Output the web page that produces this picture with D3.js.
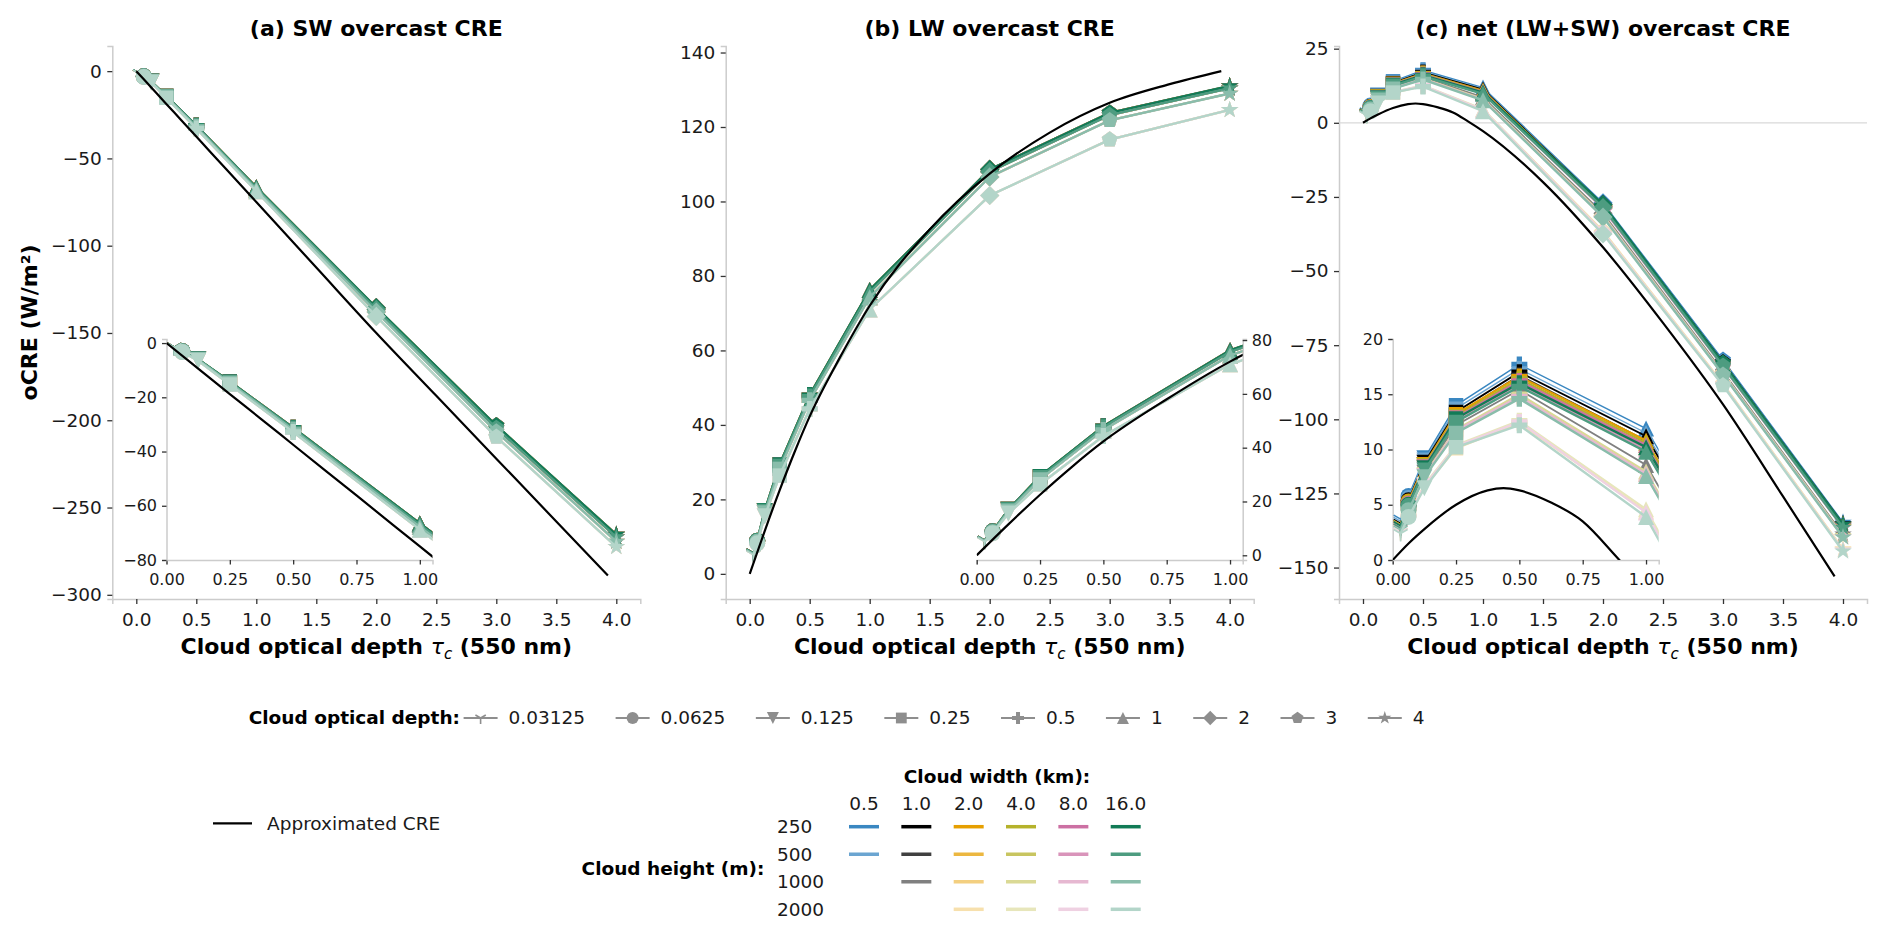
<!DOCTYPE html>
<html>
<head>
<meta charset="utf-8">
<script src="https://cdn.jsdelivr.net/npm/d3@7"></script>
<style>
  body { margin: 0; background: #fff; }
  svg text { font-family: "DejaVu Sans", sans-serif; }
</style>
</head>
<body>
<svg id="chart" width="1892" height="935"></svg>
<script>
// ---- data ----
var taus = [0.03125, 0.0625, 0.125, 0.25, 0.5, 1, 2, 3, 4];
var tauLabels = ["0.03125", "0.0625", "0.125", "0.25", "0.5", "1", "2", "3", "4"];
var widthLabels = ["0.5", "1.0", "2.0", "4.0", "8.0", "16.0"];
var heightLabels = ["250", "500", "1000", "2000"];
// which heights exist for each width (index into heightLabels)
var widthHeights = [[0, 1], [0, 1, 2], [0, 1, 2, 3], [0, 1, 2, 3], [0, 1, 2, 3], [0, 1, 2, 3]];

// SW overcast CRE, by cloud height (widths overlap)
var swH250  = [-1.5, -3.0, -6.0, -14.2, -31.2, -66.5, -135.5, -203.0, -265.5];
var swH500  = [-1.5, -3.0, -6.1, -14.4, -31.5, -67.0, -136.5, -204.5, -267.0];
var swH1000 = [-1.6, -3.1, -6.2, -14.7, -32.0, -67.8, -138.0, -206.5, -269.5];
var swH2000 = [-1.7, -3.3, -6.5, -15.3, -32.8, -68.8, -140.5, -209.5, -272.5];

// LW overcast CRE, by cloud height
var lwH250  = [5.6, 8.9, 16.9, 29.4, 48.0, 76.2, 108.6, 123.8, 131.0];
var lwH500  = [5.5, 8.8, 16.7, 29.0, 47.6, 75.6, 108.0, 123.2, 130.4];
var lwH1000 = [5.4, 8.6, 16.3, 28.2, 46.6, 74.3, 106.6, 121.8, 129.0];
var lwH2000 = [5.1, 8.2, 15.5, 26.4, 44.3, 71.0, 101.6, 116.6, 124.6];

// net overcast CRE, by cloud width (rows = available heights)
var netW05 = [
  [3.7, 5.8, 9.2, 14.0, 17.7, 11.9, -27.0, -80.0, -134.8],
  [3.5, 5.6, 9.0, 13.7, 17.3, 11.5, -27.4, -80.6, -135.4]
];
var netW10 = [
  [3.3, 5.4, 8.8, 13.4, 17.0, 11.2, -27.6, -80.8, -135.3],
  [3.2, 5.2, 8.6, 13.1, 16.7, 10.8, -28.2, -81.5, -136.0],
  [2.9, 4.7, 7.9, 12.2, 15.4, 8.6, -30.5, -84.0, -138.8]
];
var netW20 = [
  [3.2, 5.3, 8.6, 13.2, 16.6, 10.8, -28.0, -81.2, -135.6],
  [3.1, 5.1, 8.4, 12.9, 16.3, 10.4, -28.6, -81.9, -136.3],
  [2.8, 4.6, 7.6, 11.6, 14.8, 7.8, -31.5, -84.8, -139.6],
  [2.5, 4.0, 6.6, 10.1, 12.4, 4.4, -36.5, -88.0, -143.8]
];
var netW40 = [
  [3.2, 5.2, 8.5, 13.0, 16.4, 10.6, -28.1, -81.3, -135.7],
  [3.0, 5.0, 8.3, 12.8, 16.1, 10.2, -28.8, -82.1, -136.5],
  [2.8, 4.6, 7.7, 11.8, 15.0, 8.0, -31.2, -84.5, -139.3],
  [2.5, 4.1, 6.8, 10.4, 12.6, 4.6, -36.8, -88.2, -144.0]
];
var netW80 = [
  [3.1, 5.1, 8.4, 12.9, 16.2, 10.4, -28.2, -81.3, -135.8],
  [3.0, 5.0, 8.2, 12.6, 15.9, 10.0, -29.0, -82.3, -136.7],
  [2.8, 4.6, 7.6, 11.7, 14.8, 7.8, -31.5, -84.8, -139.6],
  [2.5, 4.0, 6.7, 10.3, 12.5, 4.3, -37.0, -88.4, -144.2]
];
var netW160 = [
  [3.1, 5.0, 8.3, 12.8, 16.0, 10.2, -27.6, -81.0, -135.5],
  [2.9, 4.9, 8.1, 12.5, 15.7, 9.8, -28.6, -82.0, -136.5],
  [2.7, 4.5, 7.5, 11.5, 14.6, 7.6, -31.8, -85.0, -139.8],
  [2.4, 3.9, 6.5, 10.2, 12.2, 3.9, -37.5, -88.6, -144.5]
];

// approximated CRE curves
var approxTau = [0, 0.125, 0.25, 0.375, 0.5, 0.75, 1, 1.5, 2, 2.5, 3, 3.5, 3.93];
var swApprox  = [0, -9.4, -18.8, -28.1, -37.5, -56.2, -75, -112.5, -150, -186, -222, -258, -289];
var lwApprox  = [0, 11.5, 22.5, 32.8, 42.3, 58.0, 72.0, 92.5, 107.5, 118.5, 126.5, 131.5, 135.0];
var netApproxTau = [0, 0.0625, 0.125, 0.25, 0.375, 0.4375, 0.5, 0.625, 0.75, 0.875, 1, 1.5, 2, 2.5, 3, 3.5, 3.93];
var netApprox    = [0, 1.5, 2.8, 5.0, 6.3, 6.5, 6.3, 5.2, 3.5, 0.5, -2.8, -20, -42, -67.5, -95, -126, -153];

// tick labels
var xTicks = [0, 0.5, 1, 1.5, 2, 2.5, 3, 3.5, 4];
var insetXTicks = [0, 0.25, 0.5, 0.75, 1];
var swTicks = [0, -50, -100, -150, -200, -250, -300];
var lwTicks = [0, 20, 40, 60, 80, 100, 120, 140];
var netTicks = [25, 0, -25, -50, -75, -100, -125, -150];
var swInsetTicks = [0, -20, -40, -60, -80];
var lwInsetTicks = [0, 20, 40, 60, 80];
var netInsetTicks = [0, 5, 10, 15, 20];

var swByHeight = [swH250, swH500, swH1000, swH2000];
var lwByHeight = [lwH250, lwH500, lwH1000, lwH2000];
var netByWidth = [netW05, netW10, netW20, netW40, netW80, netW160];

// ---- styles ----
var widthColors = ["#3a87c1", "#000000", "#e69f00", "#b5b22b", "#cc70a3", "#127b56"];
var heightTint = [0, 0.25, 0.5, 0.68];
var widthLine = [1.4, 1.8, 2.2, 2.2, 2.2, 2.4];
var spineColor = "#cccccc", tickColor = "#333", textColor = "#1a1a1a";
var TOP = 46, BOTTOM = 599, IN_TOP = 339, IN_BOTTOM = 560, IN_W = 266;
var MS = 16;

function tint(c, f) { return d3.interpolateRgb(c, "#ffffff")(f); }

var series = [];
widthLabels.forEach(function(w, wi) {
  widthHeights[wi].forEach(function(hi, k) {
    series.push({wi: wi, hi: hi, row: k, color: tint(widthColors[wi], heightTint[hi]), lw: widthLine[wi]});
  });
});

function markerD(k, s) {
  var r = s / 2, i, pts = [];
  switch (k) {
    case 0: return "M0,0L0," + r + "M0,0L" + (0.866 * r) + "," + (-0.5 * r) + "M0,0L" + (-0.866 * r) + "," + (-0.5 * r);
    case 1: return d3.symbol(d3.symbolCircle, Math.PI * r * r)();
    case 2: return "M0," + r + "L" + (-r) + "," + (-r) + "L" + r + "," + (-r) + "Z";
    case 3: var q = r * 0.9; return "M" + (-q) + "," + (-q) + "H" + q + "V" + q + "H" + (-q) + "Z";
    case 4:
      var a = s / 6, b = s / 2;
      return "M" + (-a) + "," + (-b) + "H" + a + "V" + (-a) + "H" + b + "V" + a + "H" + a + "V" + b +
             "H" + (-a) + "V" + a + "H" + (-b) + "V" + (-a) + "H" + (-a) + "Z";
    case 5: return "M0," + (-r) + "L" + (-r) + "," + r + "L" + r + "," + r + "Z";
    case 6: var dd = r * 1.2; return "M0," + (-dd) + "L" + dd + ",0L0," + dd + "L" + (-dd) + ",0Z";
    case 7:
      for (i = 0; i < 5; i++) { var an = -Math.PI / 2 + i * 2 * Math.PI / 5; pts.push([r * 1.05 * Math.cos(an), r * 1.05 * Math.sin(an)]); }
      return "M" + pts.map(function(p) { return p.join(","); }).join("L") + "Z";
    default:
      for (i = 0; i < 10; i++) {
        var ang = -Math.PI / 2 + i * Math.PI / 5, rr = (i % 2 ? 0.382 : 1) * r * 1.15;
        pts.push([rr * Math.cos(ang), rr * Math.sin(ang)]);
      }
      return "M" + pts.map(function(p) { return p.join(","); }).join("L") + "Z";
  }
}

function styleAxis(g, size) {
  g.attr("font-family", "DejaVu Sans, sans-serif").attr("font-size", size);
  g.select(".domain").attr("stroke", spineColor).attr("stroke-width", 1.5);
  g.selectAll(".tick line").attr("stroke", tickColor).attr("stroke-width", 1.3);
  g.selectAll(".tick text").attr("fill", textColor);
}

var panels = [
  {title: "(a) SW overcast CRE", left: 112.3, right: 640.3, ylim: [-302.4, 14.4], yticks: swTicks,
   inLeft: 166.5, inYlim: [-80, 1.5], inYticks: swInsetTicks, inSide: "left",
   get: function(wi, hi, row) { return swByHeight[hi]; }, approxX: approxTau, approx: swApprox},
  {title: "(b) LW overcast CRE", left: 725.7, right: 1253.7, ylim: [-6.75, 141.75], yticks: lwTicks,
   inLeft: 976.7, inYlim: [-1.75, 80.4], inYticks: lwInsetTicks, inSide: "right",
   get: function(wi, hi, row) { return lwByHeight[hi]; }, approxX: approxTau, approx: lwApprox},
  {title: "(c) net (LW+SW) overcast CRE", left: 1339, right: 1867, ylim: [-160.6, 25.9], yticks: netTicks,
   inLeft: 1392.7, inYlim: [0, 20], inYticks: netInsetTicks, inSide: "left", zero: true,
   get: function(wi, hi, row) { return netByWidth[wi][row]; }, approxX: netApproxTau, approx: netApprox}
];

var svg = d3.select("#chart");
var defs = svg.append("defs");

function drawData(g, x, y, p, clipId) {
  var line = d3.line().x(function(d) { return x(d[0]); }).y(function(d) { return y(d[1]); });
  var smooth = d3.line().curve(d3.curveMonotoneX).x(function(d) { return x(d[0]); }).y(function(d) { return y(d[1]); });
  var body = g.append("g").attr("clip-path", "url(#" + clipId + ")");
  if (p.zero && clipId.indexOf("main") === 0) {
    body.append("line").attr("x1", x.range()[0]).attr("x2", x.range()[1])
      .attr("y1", y(0)).attr("y2", y(0)).attr("stroke", "#d9d9d9").attr("stroke-width", 1.2);
  }
  series.forEach(function(s) {
    var vals = p.get(s.wi, s.hi, s.row);
    var pts = taus.map(function(t, i) { return [t, vals[i]]; });
    body.append("path").datum(pts).attr("d", line)
      .attr("fill", "none").attr("stroke", s.color).attr("stroke-width", s.lw);
    body.selectAll(null).data(pts).enter().append("path")
      .attr("transform", function(d) { return "translate(" + x(d[0]) + "," + y(d[1]) + ")"; })
      .attr("d", function(d, i) { return markerD(i, MS); })
      .attr("fill", function(d, i) { return i === 0 ? "none" : s.color; })
      .attr("stroke", function(d, i) { return i === 0 ? s.color : "none"; })
      .attr("stroke-width", 1.6);
  });
  var ap = p.approxX.map(function(t, i) { return [t, p.approx[i]]; });
  body.append("path").datum(ap).attr("d", smooth)
    .attr("fill", "none").attr("stroke", "#000").attr("stroke-width", 2.2);
}

panels.forEach(function(p, pi) {
  var g = svg.append("g");
  var x = d3.scaleLinear().domain([-0.2, 4.2]).range([p.left, p.right]);
  var y = d3.scaleLinear().domain(p.ylim).range([BOTTOM, TOP]);

  defs.append("clipPath").attr("id", "main" + pi).append("rect")
    .attr("x", p.left).attr("y", TOP).attr("width", p.right - p.left).attr("height", BOTTOM - TOP);

  var gx = g.append("g").attr("transform", "translate(0," + BOTTOM + ")")
    .call(d3.axisBottom(x).tickValues(xTicks).tickFormat(d3.format(".1f")).tickSizeOuter(0).tickSize(5).tickPadding(9));
  styleAxis(gx, 18.5);
  var gy = g.append("g").attr("transform", "translate(" + p.left + ",0)")
    .call(d3.axisLeft(y).tickValues(p.yticks).tickFormat(d3.format("d")).tickSizeOuter(0).tickSize(5).tickPadding(5.5));
  styleAxis(gy, 18.5);

  drawData(g, x, y, p, "main" + pi);

  // inset
  var ix = d3.scaleLinear().domain([0, 1.05]).range([p.inLeft, p.inLeft + IN_W]);
  var iy = d3.scaleLinear().domain(p.inYlim).range([IN_BOTTOM, IN_TOP]);
  defs.append("clipPath").attr("id", "inset" + pi).append("rect")
    .attr("x", p.inLeft).attr("y", IN_TOP).attr("width", IN_W).attr("height", IN_BOTTOM - IN_TOP);
  var gix = g.append("g").attr("transform", "translate(0," + IN_BOTTOM + ")")
    .call(d3.axisBottom(ix).tickValues(insetXTicks).tickFormat(d3.format(".2f")).tickSizeOuter(0).tickSize(4.5).tickPadding(9));
  styleAxis(gix, 16);
  var giy;
  if (p.inSide === "left") {
    giy = g.append("g").attr("transform", "translate(" + p.inLeft + ",0)")
      .call(d3.axisLeft(iy).tickValues(p.inYticks).tickFormat(d3.format("d")).tickSizeOuter(0).tickSize(4.5).tickPadding(5));
  } else {
    giy = g.append("g").attr("transform", "translate(" + (p.inLeft + IN_W) + ",0)")
      .call(d3.axisRight(iy).tickValues(p.inYticks).tickFormat(d3.format("d")).tickSizeOuter(0).tickSize(4.5).tickPadding(4.5));
  }
  styleAxis(giy, 16);
  drawData(g, ix, iy, p, "inset" + pi);

  // title and x label
  var cx = (p.left + p.right) / 2;
  g.append("text").attr("x", cx).attr("y", 36).attr("text-anchor", "middle")
    .attr("font-size", 22).attr("font-weight", "bold").attr("fill", "#000").text(p.title);
  var xl = g.append("text").attr("x", cx).attr("y", 654).attr("text-anchor", "middle")
    .attr("font-size", 22).attr("font-weight", "bold").attr("fill", "#000");
  xl.append("tspan").text("Cloud optical depth ");
  xl.append("tspan").attr("font-style", "italic").attr("font-weight", "normal").text("τ");
  xl.append("tspan").attr("font-style", "italic").attr("font-weight", "normal").attr("font-size", 15).attr("dy", 5).text("c");
  xl.append("tspan").attr("dy", -5).text(" (550 nm)");
});

svg.append("text").attr("transform", "translate(37,322.5) rotate(-90)").attr("text-anchor", "middle")
  .attr("font-size", 22).attr("font-weight", "bold").attr("fill", "#000").text("oCRE (W/m²)");

// ---- legends ----
var LF = 18.5, legGray = "#8e8e8e";
var leg1 = svg.append("g");
leg1.append("text").attr("x", 460).attr("y", 718).attr("dy", "0.35em").attr("text-anchor", "end")
  .attr("font-size", LF).attr("font-weight", "bold").attr("fill", "#000").text("Cloud optical depth:");
var lx = 480.6;
tauLabels.forEach(function(lab, i) {
  var e = leg1.append("g").attr("transform", "translate(" + lx + ",718)");
  e.append("line").attr("x1", -17).attr("x2", 17).attr("stroke", legGray).attr("stroke-width", 2.2);
  e.append("path").attr("d", markerD(i, 12))
    .attr("fill", i === 0 ? "none" : legGray).attr("stroke", i === 0 ? legGray : "none").attr("stroke-width", 1.6);
  var t = e.append("text").attr("x", 28).attr("dy", "0.35em").attr("font-size", LF).attr("fill", textColor).text(lab);
  lx += 75.5 + t.node().getComputedTextLength();
});

var leg2 = svg.append("g");
leg2.append("line").attr("x1", 213).attr("x2", 252).attr("y1", 823.3).attr("y2", 823.3)
  .attr("stroke", "#000").attr("stroke-width", 2.2);
leg2.append("text").attr("x", 267).attr("y", 823.3).attr("dy", "0.35em").attr("font-size", LF)
  .attr("fill", textColor).text("Approximated CRE");

leg2.append("text").attr("x", 997).attr("y", 776.7).attr("dy", "0.35em").attr("text-anchor", "middle")
  .attr("font-size", LF).attr("font-weight", "bold").attr("fill", "#000").text("Cloud width (km):");
leg2.append("text").attr("x", 764.4).attr("y", 868.3).attr("dy", "0.35em").attr("text-anchor", "end")
  .attr("font-size", LF).attr("font-weight", "bold").attr("fill", "#000").text("Cloud height (m):");

var colX = d3.scalePoint().domain(widthLabels).range([864, 1125.7]);
var rowY = d3.scalePoint().domain(heightLabels).range([826.7, 909.3]);
widthLabels.forEach(function(w) {
  leg2.append("text").attr("x", colX(w)).attr("y", 803.3).attr("dy", "0.35em").attr("text-anchor", "middle")
    .attr("font-size", LF).attr("fill", textColor).text(w);
});
heightLabels.forEach(function(h) {
  leg2.append("text").attr("x", 777).attr("y", rowY(h)).attr("dy", "0.35em")
    .attr("font-size", LF).attr("fill", textColor).text(h);
});
series.forEach(function(s) {
  var cxs = colX(widthLabels[s.wi]), cys = rowY(heightLabels[s.hi]);
  leg2.append("line").attr("x1", cxs - 15).attr("x2", cxs + 15).attr("y1", cys).attr("y2", cys)
    .attr("stroke", s.color).attr("stroke-width", 3.5);
});
</script>
</body>
</html>
